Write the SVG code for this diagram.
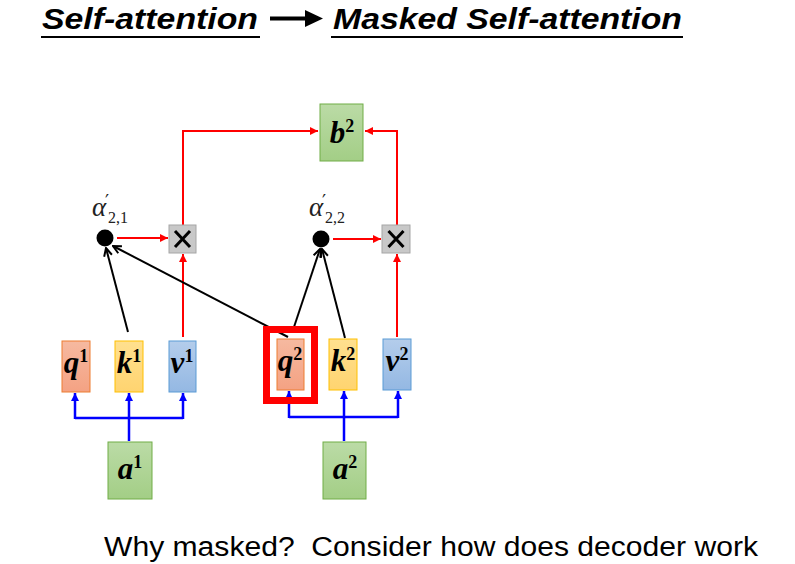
<svg xmlns="http://www.w3.org/2000/svg" width="795" height="564" viewBox="0 0 795 564">
<style>
.title{font-family:"Liberation Sans",Arial,sans-serif;font-weight:bold;font-style:italic;font-size:30px;fill:#000}
.foot{font-family:"Liberation Sans",Arial,sans-serif;font-size:27px;fill:#000;white-space:pre}
.math{font-family:"Liberation Serif","Times New Roman",serif;font-weight:bold;font-style:italic;font-size:31px;fill:#000}
.sup{font-size:18px;font-style:normal}
.alpha{font-family:"Liberation Serif","Times New Roman",serif;font-style:italic;font-size:27px;fill:#222}
.sub{font-family:"Liberation Serif","Times New Roman",serif;font-style:normal;font-size:16px;fill:#222}
.prime{font-family:"DejaVu Serif",serif;font-size:18px;fill:#222}
.q{fill:url(#gq);stroke:#ED7D31;stroke-width:1}
.k{fill:url(#gk);stroke:#FFC000;stroke-width:1}
.v{fill:url(#gv);stroke:#5B9BD5;stroke-width:1}
.g{fill:url(#gg);stroke:#70AD47;stroke-width:1}
.x{fill:#C8C8C8;stroke:#A6A6A6;stroke-width:1}
.red{stroke:#FF0000;stroke-width:2;fill:none}
.blk{stroke:#000;stroke-width:2;fill:none}
.blu{stroke:#0000FF;stroke-width:2.5;fill:none}
</style>
<defs>
<linearGradient id="gq" x1="0" y1="0" x2="0" y2="1"><stop offset="0" stop-color="#F6B9A0"/><stop offset="1" stop-color="#F4A283"/></linearGradient>
<linearGradient id="gk" x1="0" y1="0" x2="0" y2="1"><stop offset="0" stop-color="#FFE08F"/><stop offset="1" stop-color="#FFD470"/></linearGradient>
<linearGradient id="gv" x1="0" y1="0" x2="0" y2="1"><stop offset="0" stop-color="#B4CDEB"/><stop offset="1" stop-color="#94B8E3"/></linearGradient>
<linearGradient id="gg" x1="0" y1="0" x2="0" y2="1"><stop offset="0" stop-color="#BBDBA6"/><stop offset="1" stop-color="#A3CE86"/></linearGradient>
<marker id="ar" viewBox="0 0 10 10" refX="10" refY="5" markerWidth="10" markerHeight="8" markerUnits="userSpaceOnUse" orient="auto"><path d="M0,0 L10,5 L0,10 z" fill="#FF0000"/></marker>
<marker id="ab" viewBox="0 0 10 10" refX="10" refY="5" markerWidth="9" markerHeight="8" markerUnits="userSpaceOnUse" orient="auto"><path d="M0,0 L10,5 L0,10 z" fill="#0000FF"/></marker>
<marker id="ak" viewBox="0 0 10 10" refX="9" refY="5" markerWidth="10" markerHeight="10" markerUnits="userSpaceOnUse" orient="auto"><path d="M1,1 L9,5 L1,9" fill="none" stroke="#000" stroke-width="2"/></marker>
</defs>

<g id="title">
<text class="title" x="42" y="29" textLength="216" lengthAdjust="spacingAndGlyphs">Self-attention</text>
<line x1="41" y1="37" x2="260" y2="37" stroke="#000" stroke-width="2"/>
<path d="M270,16.5 L305,16.5 L305,10 L323,18.5 L305,27 L305,20.5 L270,20.5 z" fill="#000"/>
<text class="title" x="333" y="29" textLength="349" lengthAdjust="spacingAndGlyphs">Masked Self-attention</text>
<line x1="331" y1="37" x2="683" y2="37" stroke="#000" stroke-width="2"/>
</g>

<g id="connectors">
<path class="red" d="M117,238 L168,238" marker-end="url(#ar)"/>
<path class="red" d="M333,239 L381,239" marker-end="url(#ar)"/>
<path class="red" d="M183,337 L183,254" marker-end="url(#ar)"/>
<path class="red" d="M397,337 L397,254" marker-end="url(#ar)"/>
<path class="red" d="M183,225 L183,131 L318,131" marker-end="url(#ar)"/>
<path class="red" d="M397,225 L397,131 L365,131" marker-end="url(#ar)"/>
<path class="blk" d="M128,332 L106,248" marker-end="url(#ak)"/>
<path class="blk" d="M288,337 L113,246" marker-end="url(#ak)"/>
<path class="blk" d="M294,327 L320,249" marker-end="url(#ak)"/>
<path class="blk" d="M345,338 L322,249" marker-end="url(#ak)"/>
<path class="blu" d="M75,418 L183,418"/>
<path class="blu" d="M75,419 L75,393" marker-end="url(#ab)"/>
<path class="blu" d="M183,419 L183,393" marker-end="url(#ab)"/>
<path class="blu" d="M129,441 L129,393" marker-end="url(#ab)"/>
<path class="blu" d="M289,417 L398,417"/>
<path class="blu" d="M289,418 L289,391" marker-end="url(#ab)"/>
<path class="blu" d="M398,418 L398,391" marker-end="url(#ab)"/>
<path class="blu" d="M344,441 L344,391" marker-end="url(#ab)"/>
</g>

<g id="b2"><rect class="g" x="320" y="104" width="43" height="57"/><text class="math" x="342" y="143" text-anchor="middle">b<tspan class="sup" dy="-11">2</tspan></text></g>

<g id="alpha21"><circle cx="105" cy="238" r="8.5" fill="#000"/>
<text class="alpha" x="92" y="216">α</text><text class="prime" x="105" y="208">′</text><text class="sub" x="108" y="223">2,1</text></g>
<g id="alpha22"><circle cx="321" cy="239" r="8.5" fill="#000"/>
<text class="alpha" x="309" y="216">α</text><text class="prime" x="322" y="208">′</text><text class="sub" x="325" y="223">2,2</text></g>

<g id="mul1"><rect class="x" x="169" y="225" width="27" height="28"/><path d="M175,231 L190,247 M190,231 L175,247" stroke="#000" stroke-width="3"/></g>
<g id="mul2"><rect class="x" x="382" y="225" width="28" height="28"/><path d="M388.5,231 L403.5,247 M403.5,231 L388.5,247" stroke="#000" stroke-width="3"/></g>

<g id="q1"><rect class="q" x="62" y="341" width="28" height="51"/><text class="math" x="76" y="373" text-anchor="middle">q<tspan class="sup" dy="-11">1</tspan></text></g>
<g id="k1"><rect class="k" x="115" y="341" width="28" height="51"/><text class="math" x="129" y="373" text-anchor="middle">k<tspan class="sup" dy="-11">1</tspan></text></g>
<g id="v1"><rect class="v" x="169" y="341" width="27" height="51"/><text class="math" x="182" y="373" text-anchor="middle">v<tspan class="sup" dy="-11">1</tspan></text></g>
<g id="q2"><rect class="q" x="277" y="339" width="27" height="51"/><text class="math" x="290" y="371" text-anchor="middle">q<tspan class="sup" dy="-11">2</tspan></text>
<rect x="266.5" y="329.5" width="48" height="71" fill="none" stroke="#FF0000" stroke-width="7"/></g>
<g id="k2"><rect class="k" x="329" y="339" width="28" height="51"/><text class="math" x="343" y="371" text-anchor="middle">k<tspan class="sup" dy="-11">2</tspan></text></g>
<g id="v2"><rect class="v" x="383" y="339" width="28" height="51"/><text class="math" x="397" y="371" text-anchor="middle">v<tspan class="sup" dy="-11">2</tspan></text></g>

<g id="a1"><rect class="g" x="108" y="442" width="44" height="57"/><text class="math" x="130" y="479" text-anchor="middle">a<tspan class="sup" dy="-11">1</tspan></text></g>
<g id="a2"><rect class="g" x="323" y="442" width="43" height="57"/><text class="math" x="345" y="479" text-anchor="middle">a<tspan class="sup" dy="-11">2</tspan></text></g>

<text class="foot" x="104" y="556" textLength="654" lengthAdjust="spacingAndGlyphs">Why masked?&#160; Consider how does decoder work</text>
</svg>
